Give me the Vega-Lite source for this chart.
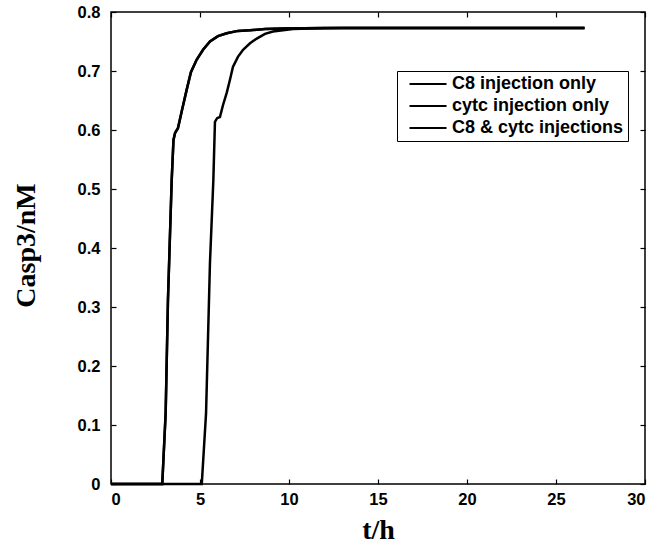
{
  "$schema": "https://vega.github.io/schema/vega-lite/v6.json",
  "width": 534,
  "height": 472,
  "autosize": {"type": "none"},
  "padding": {"left": 111, "top": 12, "right": 10, "bottom": 60},
  "background": "white",
  "config": {
    "view": {"stroke": "black", "strokeWidth": 1.5},
    "axis": {
      "grid": false,
      "domain": false,
      "tickColor": "black",
      "tickSize": 5,
      "tickWidth": 1.2,
      "offset": -5,
      "labelFont": "Liberation Sans",
      "labelFontWeight": "bold",
      "labelFontSize": 16.5,
      "labelColor": "black",
      "titleFont": "Liberation Serif",
      "titleFontWeight": "bold",
      "titleFontSize": 28,
      "titleColor": "black"
    }
  },
  "datasets": {
    "curves": [
      {"series": "C8 injection only", "t": 0, "v": 0},
      {"series": "C8 injection only", "t": 2.88, "v": 0},
      {"series": "C8 injection only", "t": 3.07, "v": 0.12},
      {"series": "C8 injection only", "t": 3.2, "v": 0.312},
      {"series": "C8 injection only", "t": 3.41, "v": 0.515},
      {"series": "C8 injection only", "t": 3.51, "v": 0.583},
      {"series": "C8 injection only", "t": 3.6, "v": 0.595},
      {"series": "C8 injection only", "t": 3.76, "v": 0.603},
      {"series": "C8 injection only", "t": 3.99, "v": 0.634},
      {"series": "C8 injection only", "t": 4.25, "v": 0.668},
      {"series": "C8 injection only", "t": 4.49, "v": 0.698},
      {"series": "C8 injection only", "t": 4.81, "v": 0.719},
      {"series": "C8 injection only", "t": 5.17, "v": 0.736},
      {"series": "C8 injection only", "t": 5.56, "v": 0.75},
      {"series": "C8 injection only", "t": 6.01, "v": 0.759},
      {"series": "C8 injection only", "t": 6.5, "v": 0.764},
      {"series": "C8 injection only", "t": 7.13, "v": 0.768},
      {"series": "C8 injection only", "t": 7.81, "v": 0.769},
      {"series": "C8 injection only", "t": 8.65, "v": 0.771},
      {"series": "C8 injection only", "t": 9.66, "v": 0.772},
      {"series": "C8 injection only", "t": 12, "v": 0.773},
      {"series": "C8 injection only", "t": 26.6, "v": 0.773},
      {"series": "cytc injection only", "t": 0, "v": 0},
      {"series": "cytc injection only", "t": 5.1, "v": 0},
      {"series": "cytc injection only", "t": 5.34, "v": 0.12},
      {"series": "cytc injection only", "t": 5.56, "v": 0.375},
      {"series": "cytc injection only", "t": 5.75, "v": 0.515},
      {"series": "cytc injection only", "t": 5.84, "v": 0.614},
      {"series": "cytc injection only", "t": 5.96, "v": 0.62},
      {"series": "cytc injection only", "t": 6.12, "v": 0.622},
      {"series": "cytc injection only", "t": 6.29, "v": 0.642},
      {"series": "cytc injection only", "t": 6.5, "v": 0.663},
      {"series": "cytc injection only", "t": 6.69, "v": 0.686},
      {"series": "cytc injection only", "t": 6.85, "v": 0.707},
      {"series": "cytc injection only", "t": 7.13, "v": 0.724},
      {"series": "cytc injection only", "t": 7.42, "v": 0.736},
      {"series": "cytc injection only", "t": 7.81, "v": 0.747},
      {"series": "cytc injection only", "t": 8.19, "v": 0.755},
      {"series": "cytc injection only", "t": 8.65, "v": 0.763},
      {"series": "cytc injection only", "t": 9.1, "v": 0.767},
      {"series": "cytc injection only", "t": 9.66, "v": 0.769},
      {"series": "cytc injection only", "t": 10.23, "v": 0.771},
      {"series": "cytc injection only", "t": 11.18, "v": 0.772},
      {"series": "cytc injection only", "t": 13, "v": 0.773},
      {"series": "cytc injection only", "t": 26.6, "v": 0.773},
      {"series": "C8 & cytc injections", "t": 0, "v": 0},
      {"series": "C8 & cytc injections", "t": 2.88, "v": 0},
      {"series": "C8 & cytc injections", "t": 3.07, "v": 0.12},
      {"series": "C8 & cytc injections", "t": 3.2, "v": 0.312},
      {"series": "C8 & cytc injections", "t": 3.41, "v": 0.515},
      {"series": "C8 & cytc injections", "t": 3.51, "v": 0.583},
      {"series": "C8 & cytc injections", "t": 3.6, "v": 0.595},
      {"series": "C8 & cytc injections", "t": 3.76, "v": 0.603},
      {"series": "C8 & cytc injections", "t": 3.99, "v": 0.634},
      {"series": "C8 & cytc injections", "t": 4.25, "v": 0.668},
      {"series": "C8 & cytc injections", "t": 4.49, "v": 0.698},
      {"series": "C8 & cytc injections", "t": 4.81, "v": 0.719},
      {"series": "C8 & cytc injections", "t": 5.17, "v": 0.736},
      {"series": "C8 & cytc injections", "t": 5.56, "v": 0.75},
      {"series": "C8 & cytc injections", "t": 6.01, "v": 0.759},
      {"series": "C8 & cytc injections", "t": 6.5, "v": 0.764},
      {"series": "C8 & cytc injections", "t": 7.13, "v": 0.768},
      {"series": "C8 & cytc injections", "t": 7.81, "v": 0.769},
      {"series": "C8 & cytc injections", "t": 8.65, "v": 0.771},
      {"series": "C8 & cytc injections", "t": 9.66, "v": 0.772},
      {"series": "C8 & cytc injections", "t": 12, "v": 0.773},
      {"series": "C8 & cytc injections", "t": 26.6, "v": 0.773}
    ]
  },
  "data": {"name": "curves"},
  "layer": [
    {
      "mark": {"type": "line", "strokeWidth": 2.5, "interpolate": "linear"},
      "encoding": {
        "x": {
          "field": "t", "type": "quantitative",
          "scale": {"domain": [0, 30], "nice": false},
          "axis": {"values": [0, 5, 10, 15, 20, 25, 30], "title": "t/h", "labelPadding": 7, "titleY": 65, "titleBaseline": "bottom"}
        },
        "y": {
          "field": "v", "type": "quantitative",
          "scale": {"domain": [0, 0.8], "nice": false, "zero": true},
          "axis": {"values": [0, 0.1, 0.2, 0.3, 0.4, 0.5, 0.6, 0.7, 0.8], "labelExpr": "datum.value == 0 ? '0' : format(datum.value, '.1f')", "title": "Casp3/nM", "labelPadding": 11, "titleX": -82, "titleY": 233, "titleAngle": -90, "titleAlign": "center", "titleBaseline": "alphabetic", "titleAnchor": null}
        },
        "color": {
          "field": "series", "type": "nominal",
          "scale": {"domain": ["C8 injection only", "cytc injection only", "C8 & cytc injections"], "range": ["black", "black", "black"]},
          "legend": {
            "orient": "none", "legendX": 286, "legendY": 59, "title": null,
            "strokeColor": "black", "fillColor": "white", "padding": 4,
            "symbolType": "M-0.067,0H4.87", "symbolSize": 225, "symbolStrokeWidth": 2,
            "labelFont": "Liberation Sans", "labelFontWeight": "bold", "labelFontSize": 18, "labelColor": "black",
            "labelOffset": 33, "labelLimit": 400, "rowPadding": 4
          }
        }
      }
    },
    {
      "mark": {"type": "point", "opacity": 0},
      "encoding": {
        "x": {"field": "t", "type": "quantitative", "axis": {"orient": "top", "values": [0, 5, 10, 15, 20, 25, 30], "labels": false, "title": null}},
        "y": {"field": "v", "type": "quantitative", "axis": {"orient": "right", "values": [0, 0.1, 0.2, 0.3, 0.4, 0.5, 0.6, 0.7, 0.8], "labels": false, "title": null}}
      }
    }
  ],
  "resolve": {"axis": {"x": "independent", "y": "independent"}}
}
